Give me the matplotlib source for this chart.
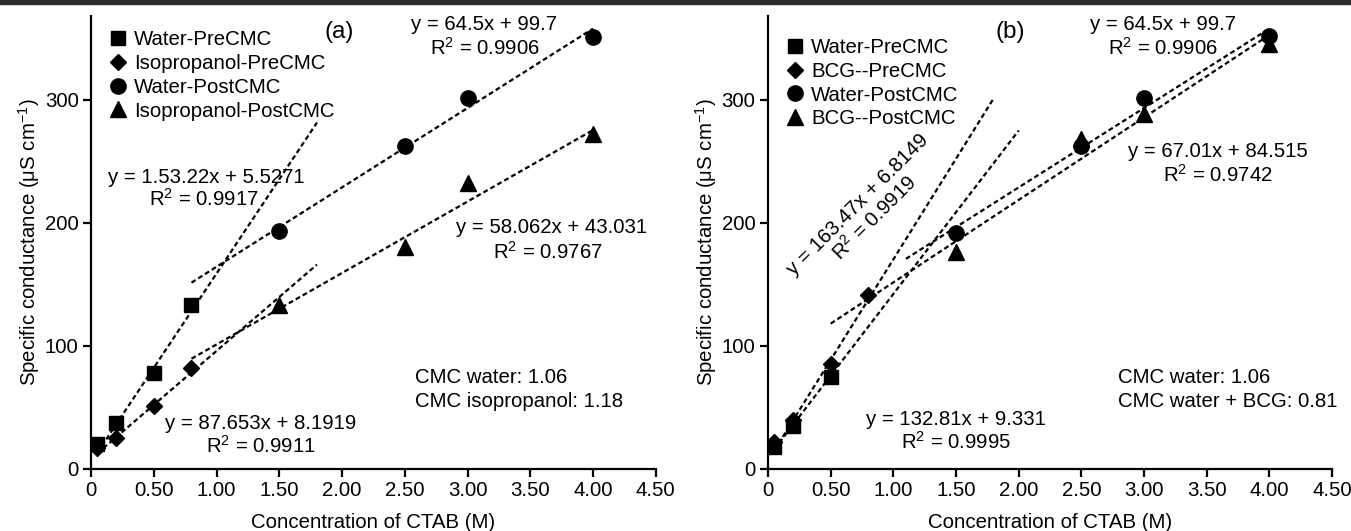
import matplotlib
matplotlib.use('Agg')
import matplotlib.pyplot as plt
from matplotlib.patches import Rectangle

plt.rcParams['font.family'] = ['Liberation Sans', 'DejaVu Sans']
plt.rcParams['mathtext.fontset'] = 'custom'
plt.rcParams['mathtext.rm'] = 'Liberation Sans'
plt.rcParams['mathtext.it'] = 'Liberation Sans:italic'

# ---- data ----
pre_x = [0.05, 0.2, 0.5, 0.8]
post_x = [1.5, 2.5, 3.0, 4.0]

# panel (a)
a_water_pre = [20, 37, 78, 133]
a_iso_pre = [17, 25, 51, 82]
a_water_post = [193, 262, 301, 351]
a_iso_post = [133, 180, 232, 272]

# panel (b)
b_water_pre_x = [0.05, 0.2, 0.5]
b_water_pre = [18, 35, 75]
b_bcg_pre = [22, 40, 85, 141]
b_water_post = [192, 262, 301, 352]
b_bcg_post = [176, 268, 288, 345]

# trend lines: (slope, intercept, x start, x end)
a_fits = [(153.22, 5.5271, 0.05, 1.8),
          (87.653, 8.1919, 0.05, 1.8),
          (64.5, 99.7, 0.8, 4.0),
          (58.062, 43.031, 0.8, 4.0)]
b_fits = [(163.47, 6.8149, 0.05, 1.8),
          (132.81, 9.331, 0.05, 2.0),
          (64.5, 99.7, 1.1, 4.0),
          (67.01, 84.515, 0.5, 4.0)]

xticks = [0, 0.5, 1.0, 1.5, 2.0, 2.5, 3.0, 3.5, 4.0, 4.5]
xticklabels = ['0', '0.50', '1.00', '1.50', '2.00', '2.50', '3.00', '3.50', '4.00', '4.50']
yticks = [0, 100, 200, 300]

fs = 14.7
dash = (0, (2.2, 1.4))

fig = plt.figure(figsize=(13.51, 5.31), dpi=100)
fig.patches.append(Rectangle((0, 0.993), 1, 0.007, transform=fig.transFigure,
                             color='#2a2a2a', zorder=10))

ax_a = fig.add_axes([0.0674, 0.117, 0.418, 0.853])
ax_b = fig.add_axes([0.5685, 0.117, 0.4175, 0.853])


def style_axes(ax):
    for s in ['top', 'right']:
        ax.spines[s].set_visible(False)
    for s in ['left', 'bottom']:
        ax.spines[s].set_linewidth(1.6)
    ax.set_xlim(0, 4.5)
    ax.set_ylim(0, 368)
    ax.set_xticks(xticks)
    ax.set_xticklabels(xticklabels)
    ax.set_yticks(yticks)
    ax.tick_params(direction='out', length=6, width=1.6, labelsize=fs, pad=3)
    ax.set_xlabel('Concentration of CTAB (M)', fontsize=fs, labelpad=9)
    ax.set_ylabel('Specific conductance (μS cm$^{-1}$)', fontsize=fs, labelpad=2)


def draw_fits(ax, fits):
    for m, c, x0, x1 in fits:
        ax.plot([x0, x1], [m * x0 + c, m * x1 + c], color='black', lw=1.6,
                linestyle=dash, zorder=2)


for ax in (ax_a, ax_b):
    style_axes(ax)

# panel (a)
draw_fits(ax_a, a_fits)
ax_a.plot(pre_x, a_water_pre, 's', color='black', ms=10, label='Water-PreCMC', zorder=3)
ax_a.plot(pre_x, a_iso_pre, 'D', color='black', ms=8.5, label='Isopropanol-PreCMC', zorder=3)
ax_a.plot(post_x, a_water_post, 'o', color='black', ms=11, label='Water-PostCMC', zorder=3)
ax_a.plot(post_x, a_iso_post, '^', color='black', ms=11, label='Isopropanol-PostCMC', zorder=3)
ax_a.legend(loc='upper left', bbox_to_anchor=(0.0, 0.995), frameon=False, fontsize=fs,
            handletextpad=0.1, labelspacing=0.23, borderaxespad=0.2, handlelength=1.4)

ax_a.text(1.98, 355, '(a)', fontsize=17.5, ha='center', va='center')
ax_a.text(3.13, 361, 'y = 64.5x + 99.7', fontsize=fs, ha='center', va='center')
ax_a.text(3.14, 342, 'R$^{2}$ = 0.9906', fontsize=fs, ha='center', va='center')
ax_a.text(0.92, 237, 'y = 1.53.22x + 5.5271', fontsize=fs, ha='center', va='center')
ax_a.text(0.90, 219, 'R$^{2}$ = 0.9917', fontsize=fs, ha='center', va='center')
ax_a.text(3.67, 196, 'y = 58.062x + 43.031', fontsize=fs, ha='center', va='center')
ax_a.text(3.64, 176, 'R$^{2}$ = 0.9767', fontsize=fs, ha='center', va='center')
ax_a.text(1.35, 37, 'y = 87.653x + 8.1919', fontsize=fs, ha='center', va='center')
ax_a.text(1.35, 19, 'R$^{2}$ = 0.9911', fontsize=fs, ha='center', va='center')
ax_a.text(2.58, 74, 'CMC water: 1.06', fontsize=fs, ha='left', va='center')
ax_a.text(2.58, 55, 'CMC isopropanol: 1.18', fontsize=fs, ha='left', va='center')

# panel (b)
draw_fits(ax_b, b_fits)
ax_b.plot(b_water_pre_x, b_water_pre, 's', color='black', ms=10, label='Water-PreCMC', zorder=3)
ax_b.plot(pre_x, b_bcg_pre, 'D', color='black', ms=8.5, label='BCG--PreCMC', zorder=3)
ax_b.plot(post_x, b_water_post, 'o', color='black', ms=11, label='Water-PostCMC', zorder=3)
ax_b.plot(post_x, b_bcg_post, '^', color='black', ms=11, label='BCG--PostCMC', zorder=3)
ax_b.legend(loc='upper left', bbox_to_anchor=(0.0, 0.978), frameon=False, fontsize=fs,
            handletextpad=0.1, labelspacing=0.23, borderaxespad=0.2, handlelength=1.4)

ax_b.text(1.93, 355, '(b)', fontsize=17.5, ha='center', va='center')
ax_b.text(3.15, 361, 'y = 64.5x + 99.7', fontsize=fs, ha='center', va='center')
ax_b.text(3.15, 342, 'R$^{2}$ = 0.9906', fontsize=fs, ha='center', va='center')
ax_b.text(3.59, 258, 'y = 67.01x + 84.515', fontsize=fs, ha='center', va='center')
ax_b.text(3.59, 239, 'R$^{2}$ = 0.9742', fontsize=fs, ha='center', va='center')
ax_b.text(0.72, 215, 'y = 163.47x + 6.8149', fontsize=fs, ha='center', va='center',
          rotation=45, rotation_mode='anchor')
ax_b.text(0.85, 204, 'R$^{2}$ = 0.9919', fontsize=fs, ha='center', va='center',
          rotation=45, rotation_mode='anchor')
ax_b.text(1.50, 40, 'y = 132.81x + 9.331', fontsize=fs, ha='center', va='center')
ax_b.text(1.50, 22, 'R$^{2}$ = 0.9995', fontsize=fs, ha='center', va='center')
ax_b.text(2.79, 74, 'CMC water: 1.06', fontsize=fs, ha='left', va='center')
ax_b.text(2.79, 55, 'CMC water + BCG: 0.81', fontsize=fs, ha='left', va='center')

fig.savefig('out.png', dpi=100)
